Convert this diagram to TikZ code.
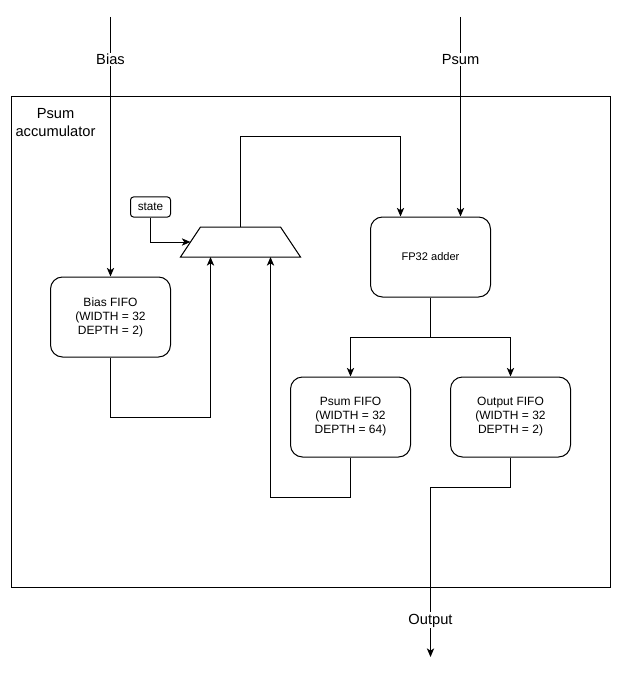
\documentclass[tikz,border=0pt]{standalone}
\usepackage{fontspec}
\setmainfont{Liberation Sans}
\usetikzlibrary{arrows.meta,calc}
\begin{document}
\begin{tikzpicture}[x=0.75pt,y=-0.75pt,
  line width=0.75pt,
  arr/.style={-{Stealth[length=6.5pt,width=5.5pt,inset=1.8pt]}},
  fifo/.style={draw, rounded corners=9pt, minimum width=90pt, minimum height=60pt, align=center, font=\fontsize{9}{10.5}\selectfont, inner sep=0pt},
  lbl/.style={fill=white, inner sep=1pt, font=\fontsize{11}{13}\selectfont}]
\useasboundingbox (0,0) rectangle (622,677);
% container
\node[draw, minimum width=449.25pt, minimum height=367.5pt, inner sep=0pt] (acc) at (310.5,342) {};
\node[align=center, font=\fontsize{11}{13.5}\selectfont, inner sep=0pt] (acclabel) at (55.5,122.5) {Psum\\accumulator};
% blocks
\node[fifo] (biasfifo) at (110.5,317) {Bias FIFO\\(WIDTH = 32\\DEPTH = 2)};
\node[fifo] (psumfifo) at (350.5,417) {Psum FIFO\\(WIDTH = 32\\DEPTH = 64)};
\node[fifo] (outfifo) at (510.5,417) {Output FIFO\\(WIDTH = 32\\DEPTH = 2)};
\node[fifo, font=\fontsize{8.3}{9.5}\selectfont] (adder) at (430.5,257) {FP32 adder};
\node[draw, rounded corners=2.25pt, minimum width=30pt, minimum height=15pt, inner sep=0pt, font=\fontsize{8.8}{10}\selectfont] (state) at (150.5,207) {state};
% mux
\draw (180.5,257) -- (200.5,227) -- (280.5,227) -- (300.5,257) -- cycle;
\coordinate (muxtop) at (240.5,227);
\coordinate (muxin1) at (210.5,257);
\coordinate (muxin2) at (270.5,257);
\coordinate (muxsel) at (190.5,242);
% connectors
\coordinate (biasin) at (110.5,17);
\coordinate (psumin) at (460.5,17);
\draw[arr] (biasin) -- node[lbl,pos=0.163] (biaslbl) {Bias} (biasfifo.north);
\draw[arr] (psumin) -- node[lbl,pos=0.212] (psumlbl) {Psum} (psumin |- adder.north);
\draw[arr] (state.south) |- (muxsel);
\coordinate (bend1) at (210.5,417);
\draw[arr] (biasfifo.south) |- (bend1) -- (muxin1);
\coordinate (bend2) at (270.5,497);
\draw[arr] (psumfifo.south) |- (bend2) -- (muxin2);
\coordinate (bend3) at (400.5,137);
\draw[arr] (muxtop) |- (bend3) -- (bend3 |- adder.north);
\coordinate (split) at (430.5,337);
\draw (adder.south) -- (split);
\draw[arr] (split) -| (psumfifo.north);
\draw[arr] (split) -| (outfifo.north);
\coordinate (bend4) at (430.5,487);
\coordinate (outend) at (430.5,657);
\draw (outfifo.south) |- (bend4);
\draw[arr] (bend4) -- node[lbl,pos=0.785] (outlbl) {Output} (outend);
\end{tikzpicture}
\end{document}
